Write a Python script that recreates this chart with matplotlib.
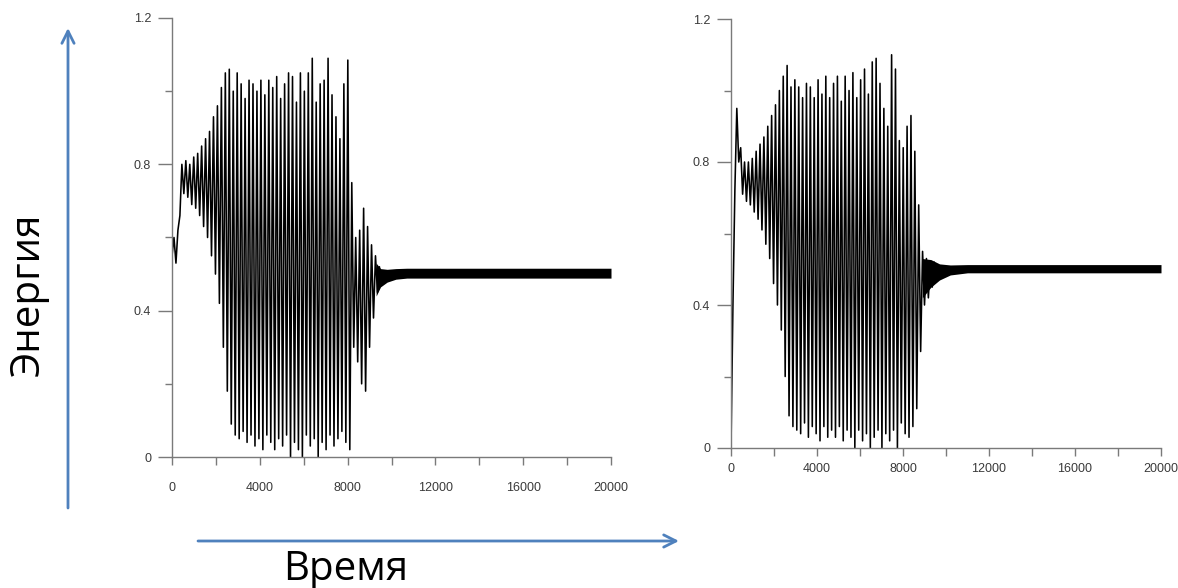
import matplotlib
matplotlib.use('Agg')
import matplotlib.pyplot as plt
import numpy as np

# sampling step between successive peak / trough vertices (time units)
step = 90

# left panel: alternating peak / trough energies
left_energy = [0.55, 0.60, 0.53, 0.62, 0.66, 0.80, 0.72, 0.81, 0.71, 0.80,
               0.69, 0.82, 0.68, 0.83, 0.66, 0.85, 0.63, 0.87, 0.60, 0.89,
               0.55, 0.93, 0.50, 0.96, 0.42, 1.01, 0.30, 1.05, 0.18, 1.06,
               0.09, 1.00, 0.06, 1.05, 0.05, 1.02, 0.07, 0.98, 0.04, 1.03,
               0.06, 1.02, 0.03, 1.00, 0.05, 1.03, 0.02, 0.99, 0.06, 1.03,
               0.04, 1.01, 0.02, 1.04, 0.05, 0.98, 0.03, 1.02, 0.06, 1.05,
               0.00, 1.04, 0.04, 0.97, 0.02, 1.05, 0.00, 1.00, 0.06, 1.05,
               0.03, 1.09, 0.05, 0.97, 0.00, 1.02, 0.04, 1.03, 0.02, 1.09,
               0.06, 0.99, 0.03, 0.93, 0.05, 0.87, 0.07, 1.02, 0.04, 1.085,
               0.02, 0.75, 0.30, 0.60, 0.26, 0.62, 0.20, 0.68, 0.18, 0.63,
               0.30, 0.58, 0.38, 0.55, 0.45, 0.52, 0.47]

# right panel
right_energy = [0.00, 0.40, 0.72, 0.95, 0.80, 0.84, 0.71, 0.80, 0.69, 0.80,
                0.68, 0.81, 0.66, 0.83, 0.64, 0.85, 0.61, 0.87, 0.57, 0.90,
                0.53, 0.93, 0.46, 0.96, 0.40, 1.00, 0.33, 1.04, 0.20, 1.07,
                0.09, 1.01, 0.06, 1.03, 0.05, 1.01, 0.04, 0.98, 0.07, 1.02,
                0.03, 1.01, 0.06, 0.98, 0.04, 1.03, 0.02, 0.99, 0.06, 1.04,
                0.03, 0.98, 0.05, 1.02, 0.03, 1.04, 0.06, 0.97, 0.02, 1.04,
                0.05, 1.00, 0.03, 1.05, 0.00, 0.98, 0.05, 1.03, 0.02, 1.06,
                0.04, 0.99, 0.00, 1.08, 0.03, 1.09, 0.05, 1.02, 0.00, 0.95,
                0.04, 0.90, 0.02, 1.10, 0.05, 1.06, 0.00, 0.86, 0.07, 0.84,
                0.04, 0.90, 0.03, 0.93, 0.06, 0.83, 0.11, 0.68, 0.27, 0.55,
                0.40, 0.53, 0.42, 0.52, 0.45, 0.52, 0.47, 0.51]

# settled regime: thick band of fast small oscillation
left_band_t = [9300, 9500, 9800, 10200, 10700, 11500, 20000]
left_band_lo = [0.44, 0.465, 0.478, 0.486, 0.489, 0.489, 0.489]
left_band_hi = [0.53, 0.515, 0.513, 0.515, 0.516, 0.516, 0.516]

right_band_t = [8900, 9300, 9700, 10200, 11000, 20000]
right_band_lo = [0.42, 0.45, 0.47, 0.484, 0.490, 0.490]
right_band_hi = [0.53, 0.527, 0.515, 0.512, 0.513, 0.513]

xmajor = [0, 4000, 8000, 12000, 16000, 20000]
xminor = [2000, 6000, 10000, 14000, 18000]
ymajor = [0, 0.4, 0.8, 1.2]
ymajor_labels = ['0', '0.4', '0.8', '1.2']
yminor = [0.2, 0.6, 1.0]

W, H = 1178, 588
fig = plt.figure(figsize=(W / 100, H / 100), dpi=100)
fig.patch.set_facecolor('white')

gray = '#7a7a7a'


def make_axes(px_left, px_top, px_w, px_h, xpad):
    ax = fig.add_axes([px_left / W, 1 - (px_top + px_h) / H, px_w / W, px_h / H])
    ax.set_xlim(0, 20000)
    ax.set_ylim(0, 1.2)
    for s in ['top', 'right']:
        ax.spines[s].set_visible(False)
    for s in ['left', 'bottom']:
        ax.spines[s].set_color(gray)
        ax.spines[s].set_linewidth(1.0)
    ax.set_xticks(xmajor)
    ax.set_xticklabels([str(v) for v in xmajor])
    ax.set_xticks(xminor, minor=True)
    ax.set_yticks(ymajor)
    ax.set_yticklabels(ymajor_labels)
    ax.set_yticks(yminor, minor=True)
    ax.tick_params(axis='x', which='both', direction='out', length=6,
                   width=1.0, color=gray, labelsize=9, labelcolor='#3a3a3a',
                   pad=xpad)
    ax.tick_params(axis='y', which='major', direction='out', length=10,
                   width=1.0, color=gray, labelsize=9, labelcolor='#3a3a3a',
                   pad=5)
    ax.tick_params(axis='y', which='minor', direction='out', length=5,
                   width=1.0, color=gray)
    for lab in ax.get_xticklabels() + ax.get_yticklabels():
        lab.set_family('Liberation Sans')
    return ax


ax1 = make_axes(172, 18, 439, 439, 12)
t1 = np.arange(len(left_energy)) * step
ax1.plot(t1, left_energy, color='black', lw=1.15)
ax1.fill_between(left_band_t, left_band_lo, left_band_hi, color='black', lw=0)

ax2 = make_axes(731, 19, 430, 429, 5)
t2 = np.arange(len(right_energy)) * step
ax2.plot(t2, right_energy, color='black', lw=1.15)
ax2.fill_between(right_band_t, right_band_lo, right_band_hi, color='black', lw=0)

# overlay for the hand-drawn arrows and axis captions
ov = fig.add_axes([0, 0, 1, 1], zorder=-1)
ov.set_xlim(0, W)
ov.set_ylim(H, 0)
ov.axis('off')
blue = '#4f81bd'
ov.annotate('', xy=(68, 28), xytext=(68, 508),
            arrowprops=dict(arrowstyle='->', color=blue, lw=2,
                            mutation_scale=22, shrinkA=0, shrinkB=0))
ov.annotate('', xy=(679, 541), xytext=(198, 541),
            arrowprops=dict(arrowstyle='->', color=blue, lw=2,
                            mutation_scale=22, shrinkA=0, shrinkB=0))
ov.text(29, 294, 'Энергия', rotation=90, ha='center', va='center',
        fontsize=29, family=['Open Sans', 'DejaVu Sans'], color='black')
ov.text(346, 570, 'Время', ha='center', va='center',
        fontsize=29, family=['Open Sans', 'DejaVu Sans'], color='black')

fig.savefig('out.png', dpi=100)
